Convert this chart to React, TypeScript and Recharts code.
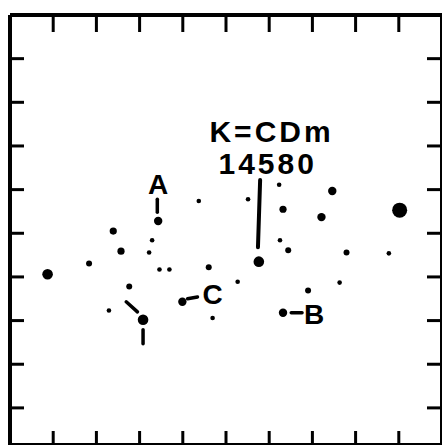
import React from 'react';
import { ScatterChart, Scatter, XAxis, YAxis, ReferenceLine } from 'recharts';

// Finding chart for K=CDm 14580 — frame is 10 x 10 divisions, slightly cropped at bottom
const xTicks = [1, 2, 3, 4, 5, 6, 7, 8, 9];
const yTicks = [1, 2, 3, 4, 5, 6, 7, 8, 9];

// stars grouped by apparent brightness (dot size)
const starsHuge = [{ x: 9.02, y: 5.53 }];
const starsLarge = [
  { x: 0.87, y: 4.06 },
  { x: 3.08, y: 3.02 },
  { x: 5.76, y: 4.35 },
];
const starsMedium = [
  { x: 3.43, y: 5.28 },
  { x: 3.99, y: 3.43 },
  { x: 7.46, y: 5.97 },
  { x: 7.21, y: 5.37 },
  { x: 6.32, y: 3.18 },
];
const starsMid = [
  { x: 2.39, y: 5.05 },
  { x: 2.57, y: 4.59 },
  { x: 6.32, y: 5.55 },
];
const starsSmall = [
  { x: 1.83, y: 4.31 },
  { x: 4.6, y: 4.22 },
  { x: 2.76, y: 3.78 },
  { x: 6.44, y: 4.61 },
  { x: 7.79, y: 4.56 },
  { x: 6.9, y: 3.69 },
];
const starsFaint = [
  { x: 3.29, y: 4.84 },
  { x: 3.22, y: 4.56 },
  { x: 3.46, y: 4.17 },
  { x: 3.69, y: 4.17 },
  { x: 2.29, y: 3.23 },
  { x: 4.69, y: 3.06 },
  { x: 4.37, y: 5.74 },
  { x: 5.51, y: 5.78 },
  { x: 6.23, y: 6.11 },
  { x: 6.25, y: 4.84 },
  { x: 8.77, y: 4.54 },
  { x: 5.27, y: 3.89 },
  { x: 7.63, y: 3.87 },
];

// pointer marks
const pointers = [
  [{ x: 3.41, y: 5.78 }, { x: 3.41, y: 5.48 }],
  [{ x: 5.79, y: 6.22 }, { x: 5.74, y: 4.68 }],
  [{ x: 2.69, y: 3.43 }, { x: 2.95, y: 3.2 }],
  [{ x: 3.08, y: 2.79 }, { x: 3.08, y: 2.47 }],
  [{ x: 4.11, y: 3.5 }, { x: 4.34, y: 3.54 }],
  [{ x: 6.51, y: 3.18 }, { x: 6.76, y: 3.18 }],
];

const labels = [
  { x: 3.43, y: 6.13, text: 'A' },
  { x: 4.69, y: 3.62, text: 'C' },
  { x: 7.04, y: 3.16, text: 'B' },
];
const titleLabels = [
  { x: 6.02, y: 7.33, text: 'K=CDm' },
  { x: 5.93, y: 6.61, text: '14580' },
];

const INK = '#000';
const FONT = '"Liberation Sans", Arial, sans-serif';

const dot = (r: number) => (props: any) => (
  <circle cx={props.cx} cy={props.cy} r={r} fill={INK} />
);

const textShape = (size: number, spacing: number) => (props: any) => (
  <text
    x={props.cx + spacing / 2}
    y={props.cy + size * 0.358}
    textAnchor="middle"
    fontFamily={FONT}
    fontWeight={700}
    fontSize={size}
    letterSpacing={spacing}
    fill={INK}
  >
    {props.payload.text}
  </text>
);

const blank = () => '';

export default function App() {
  const frame = { stroke: INK, strokeWidth: 4 };
  const tickLn = { stroke: INK, strokeWidth: 3 };
  return (
    <div style={{ position: 'absolute', left: 0, top: 0 }}>
      <ScatterChart width={442} height={445} margin={{ top: 15, right: 0, bottom: 0, left: 10 }}>
        <XAxis type="number" dataKey="x" domain={[0, 10]} ticks={xTicks} height={2} mirror
          axisLine={frame} tickLine={tickLn} tickSize={14} tickFormatter={blank} />
        <XAxis type="number" dataKey="x" xAxisId="top" orientation="top" domain={[0, 10]} ticks={xTicks}
          height={1} mirror axisLine={frame} tickLine={tickLn} tickSize={17} tickFormatter={blank} />
        <YAxis type="number" dataKey="y" domain={[0.15, 10]} ticks={yTicks} width={1} mirror
          axisLine={frame} tickLine={tickLn} tickSize={14} tickFormatter={blank} />
        <YAxis type="number" dataKey="y" yAxisId="right" orientation="right" domain={[0.15, 10]} ticks={yTicks}
          width={2} mirror axisLine={frame} tickLine={tickLn} tickSize={15} tickFormatter={blank} />
        {pointers.map((seg, i) => (
          <ReferenceLine key={i} segment={seg} stroke={INK} strokeWidth={i === 1 ? 4 : 3.5} strokeLinecap="round" />
        ))}
        <Scatter data={starsHuge} shape={dot(7.5)} isAnimationActive={false} />
        <Scatter data={starsLarge} shape={dot(5.3)} isAnimationActive={false} />
        <Scatter data={starsMedium} shape={dot(4.2)} isAnimationActive={false} />
        <Scatter data={starsMid} shape={dot(3.6)} isAnimationActive={false} />
        <Scatter data={starsSmall} shape={dot(3)} isAnimationActive={false} />
        <Scatter data={starsFaint} shape={dot(2.3)} isAnimationActive={false} />
        <Scatter data={labels} shape={textShape(28, 0)} isAnimationActive={false} />
        <Scatter data={titleLabels} xAxisId="top" yAxisId="right" shape={textShape(30, 3)} isAnimationActive={false} />
      </ScatterChart>
    </div>
  );
}
